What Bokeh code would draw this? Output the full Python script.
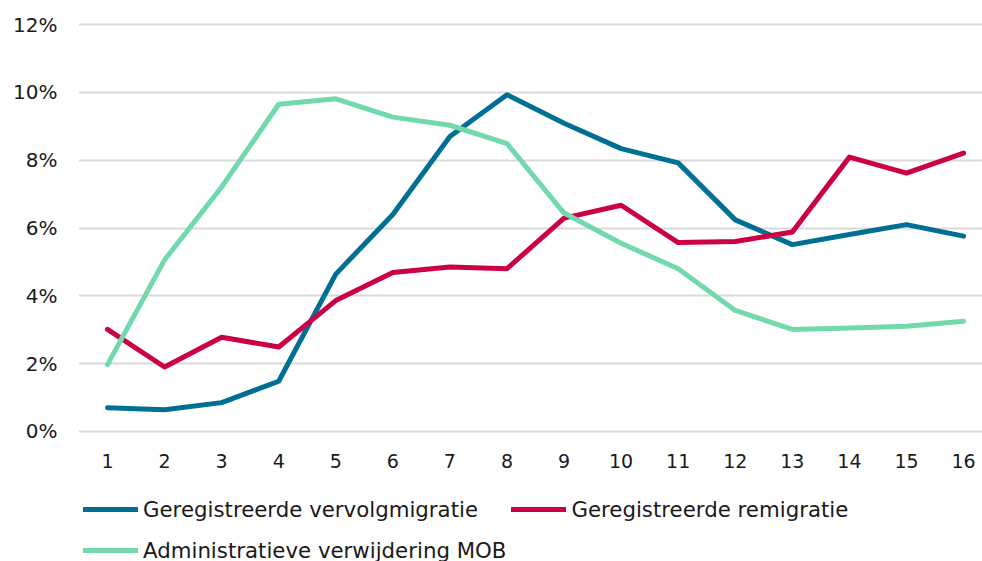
from bokeh.plotting import figure
from bokeh.layouts import column
from bokeh.models import (Range1d, FixedTicker, PrintfTickFormatter, Legend, LegendItem,
                          ColumnDataSource)
from bokeh.embed import file_html
from bokeh.resources import INLINE

# ---- data ----
jaren = list(range(1, 17))
vervolgmigratie = [0.70, 0.64, 0.85, 1.48, 4.64, 6.40, 8.70, 9.93, 9.09, 8.34,
                   7.92, 6.24, 5.51, 5.81, 6.10, 5.76]
remigratie = [3.01, 1.90, 2.78, 2.49, 3.86, 4.69, 4.85, 4.80, 6.29, 6.67,
              5.57, 5.60, 5.88, 8.09, 7.62, 8.21]
verwijdering_mob = [1.97, 5.06, 7.21, 9.65, 9.81, 9.27, 9.03, 8.49, 6.44, 5.55,
                    4.80, 3.57, 3.01, 3.05, 3.10, 3.25]
y_ticks = [0, 2, 4, 6, 8, 10, 12]

series_names = ["Geregistreerde vervolgmigratie", "Geregistreerde remigratie",
                "Administratieve verwijdering MOB"]
series_colors = ["#006F94", "#CC0044", "#72D9AC"]

FONT = "DejaVu Sans"
TXT = "#1a1a1a"

p = figure(width=982, height=475, output_backend="svg", toolbar_location=None,
           x_range=Range1d(0.492, 16.332), y_range=Range1d(-0.06, 12.06),
           min_border_left=78, min_border_right=0, min_border_top=22,
           min_border_bottom=42)
p.outline_line_color = None
p.background_fill_color = "white"
p.border_fill_color = "white"

src = ColumnDataSource(dict(x=jaren, a=vervolgmigratie, b=remigratie, c=verwijdering_mob))
for col, color in zip(["a", "b", "c"], series_colors):
    p.line("x", col, source=src, line_color=color, line_width=5,
           line_cap="round", line_join="round")

# axes
p.xaxis.ticker = FixedTicker(ticks=jaren)
p.yaxis.ticker = FixedTicker(ticks=y_ticks)
p.yaxis.formatter = PrintfTickFormatter(format="%d%%")
for ax in (p.xaxis[0], p.yaxis[0]):
    ax.axis_line_color = None
    ax.major_tick_line_color = None
    ax.minor_tick_line_color = None
    ax.major_label_text_font = FONT
    ax.major_label_text_color = TXT
p.xaxis.major_label_text_font_size = "19px"
p.yaxis.major_label_text_font_size = "20px"
p.yaxis.major_label_standoff = 15
p.xaxis.major_label_standoff = 14

p.xgrid.grid_line_color = None
p.ygrid.grid_line_color = "#d9d9d9"
p.ygrid.grid_line_width = 2

# ---- legend in its own strip below the chart ----
lg = figure(width=982, height=86, output_backend="svg", toolbar_location=None,
            x_axis_type=None, y_axis_type=None,
            x_range=Range1d(0, 1), y_range=Range1d(0, 1),
            min_border_left=0, min_border_right=0, min_border_top=0, min_border_bottom=0)
lg.outline_line_color = None
lg.grid.visible = False
# legend-only lines: their data lie outside the visible range of this strip
lg_renderers = [lg.line(x=[-5, -4], y=[-5, -5], line_color=c, line_width=5, line_cap="round")
                for c in series_colors]

# column-major fill: col 1 = items 0 and 2, col 2 = item 1
order = [0, 2, 1]
legend = Legend(items=[LegendItem(label=series_names[i], renderers=[lg_renderers[i]]) for i in order],
                nrows=2, location=(5, -7))
legend.label_text_font = FONT
legend.label_text_font_size = "21.3px"
legend.label_text_color = TXT
legend.glyph_width = 55
legend.glyph_height = 36
legend.label_height = 36
legend.label_standoff = 5
legend.spacing = 5
legend.padding = 0
legend.margin = 0
legend.border_line_color = None
legend.background_fill_alpha = 0
lg.add_layout(legend, "center")

layout = column(p, lg, spacing=0)
open("out.html", "w").write(file_html(layout, INLINE))
